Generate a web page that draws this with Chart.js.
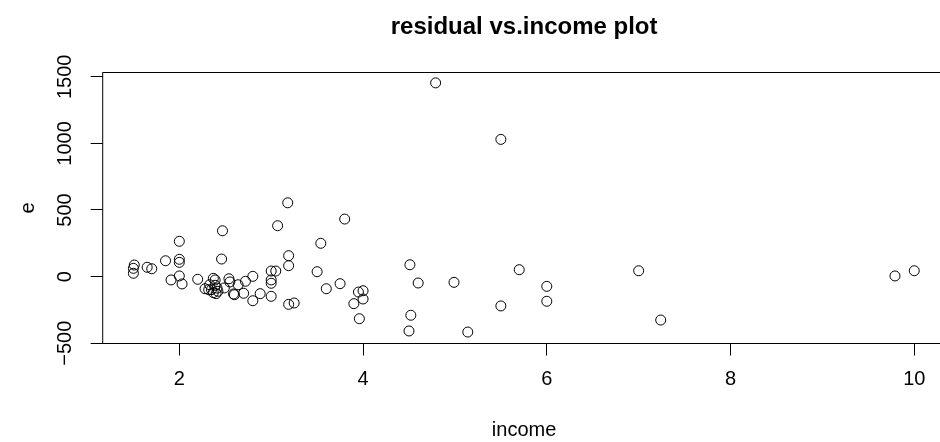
<!DOCTYPE html>
<html>
<head>
<meta charset="utf-8">
<script src="https://cdn.jsdelivr.net/npm/chart.js@4"></script>
<style>
  html, body { margin: 0; padding: 0; background: #fff; overflow: hidden; }
  #marco { width: 940px; height: 442px; overflow: hidden; }
</style>
</head>
<body>
<div id="marco"><canvas id="grafico" width="960" height="442"></canvas></div>
<script>
// datos (income, residuo e)
const ingreso = [
  3.18, 3.07, 2.47, 2.0, 3.54, 2.0, 2.0, 1.85, 2.46, 3.19, 3.19, 1.51, 1.5, 1.5,
  1.65, 1.7, 3.5, 3.0, 3.05, 2.0, 1.91, 2.03, 2.2, 2.37, 2.39, 2.54, 2.55, 2.64,
  2.72, 2.8, 3.0, 3.0, 2.33, 2.28, 2.39, 2.41, 2.35, 2.42, 2.32, 2.37, 2.4, 2.49,
  2.59, 2.6, 2.7, 2.8, 2.88, 3.0, 3.19, 3.25, 3.8, 3.6, 3.75, 3.95, 4.0, 4.0,
  3.9, 3.96, 4.51, 4.6, 4.52, 4.5, 4.99, 5.14, 5.5, 5.7, 4.79, 5.5, 6.0, 6.0,
  7.0, 7.24, 9.79, 10.0,
];
const residuo = [
  554, 382, 344, 265, 250, 130, 107, 119, 132, 157, 82, 87, 62, 25,
  70, 59, 37, 42, 42, 5, -25, -55, -20, -13, -25, -16, -40, -61,
  -35, 2, -25, -50, -61, -91, -65, -86, -98, -110, -98, -120, -128, -85,
  -130, -136, -125, -181, -128, -148, -208, -198, 432, -91, -53, -116, -106, -168,
  -203, -316, 89, -48, -290, -408, -43, -416, -220, 52, 1454, 1030, -73, -185,
  44, -326, 5, 44,
];
const ticksX = [2, 4, 6, 8, 10];
const ticksY = [-500, 0, 500, 1000, 1500];

const titulo = "residual vs.income plot";
const etiquetaX = "income";
const etiquetaY = "e";

const fuente = "'Liberation Sans', Arial, Helvetica, sans-serif";

const puntos = ingreso.map((x, i) => {
  return { x: x, y: residuo[i] };
});

// caja y textos al estilo de R
const textosR = {
  id: "textosR",
  afterDraw: (chart) => {
    const c = chart.ctx;
    const area = chart.chartArea;
    c.save();
    c.strokeStyle = "#000";
    c.lineWidth = 1;
    c.strokeRect(area.left, area.top, area.right - area.left, area.bottom - area.top);
    c.fillStyle = "#000";
    c.textAlign = "center";
    c.textBaseline = "middle";
    const centro = (area.left + area.right) / 2;
    c.font = "bold 24px " + fuente;
    c.fillText(titulo, centro, 27);
    c.font = "20px " + fuente;
    c.fillText(etiquetaX, centro, 430);
    c.translate(28, (area.top + area.bottom) / 2);
    c.rotate(-Math.PI / 2);
    c.fillText(etiquetaY, 0, 0);
    c.restore();
  },
};

new Chart(document.getElementById("grafico"), {
  type: "scatter",
  data: {
    datasets: [
      {
        data: puntos,
        pointStyle: "circle",
        pointRadius: 5,
        pointHoverRadius: 5,
        borderColor: "#000",
        borderWidth: 1,
        backgroundColor: "rgba(0,0,0,0)",
      },
    ],
  },
  options: {
    responsive: false,
    animation: false,
    layout: { padding: { left: 0, top: 72.5, right: 14.5, bottom: 0 } },
    plugins: { legend: { display: false }, tooltip: { enabled: false } },
    scales: {
      x: {
        type: "linear",
        min: 1.166,
        max: 10.34,
        afterFit: (scale) => {
          scale.height = 98.5;
        },
        afterBuildTicks: (scale) => {
          scale.ticks = ticksX.map((v) => ({ value: v }));
        },
        border: { display: false },
        grid: {
          drawOnChartArea: false,
          drawTicks: true,
          tickLength: 12,
          color: "#000",
          lineWidth: 1,
        },
        ticks: {
          color: "#000",
          font: { family: fuente, size: 20 },
          padding: 12,
          maxRotation: 0,
          autoSkip: false,
        },
      },
      y: {
        type: "linear",
        min: -502,
        max: 1532,
        afterFit: (scale) => {
          scale.width = 102.7;
        },
        afterBuildTicks: (scale) => {
          scale.ticks = ticksY.map((v) => ({ value: v }));
        },
        border: { display: false },
        grid: {
          drawOnChartArea: false,
          drawTicks: true,
          tickLength: 12,
          color: "#000",
          lineWidth: 1,
        },
        ticks: {
          color: "#000",
          font: { family: fuente, size: 20 },
          padding: 3,
          minRotation: 90,
          maxRotation: 90,
          crossAlign: "center",
          autoSkip: false,
          callback: (v) => String(v).replace("-", "\u2212"),
        },
      },
    },
  },
  plugins: [textosR],
});
</script>
</body>
</html>
